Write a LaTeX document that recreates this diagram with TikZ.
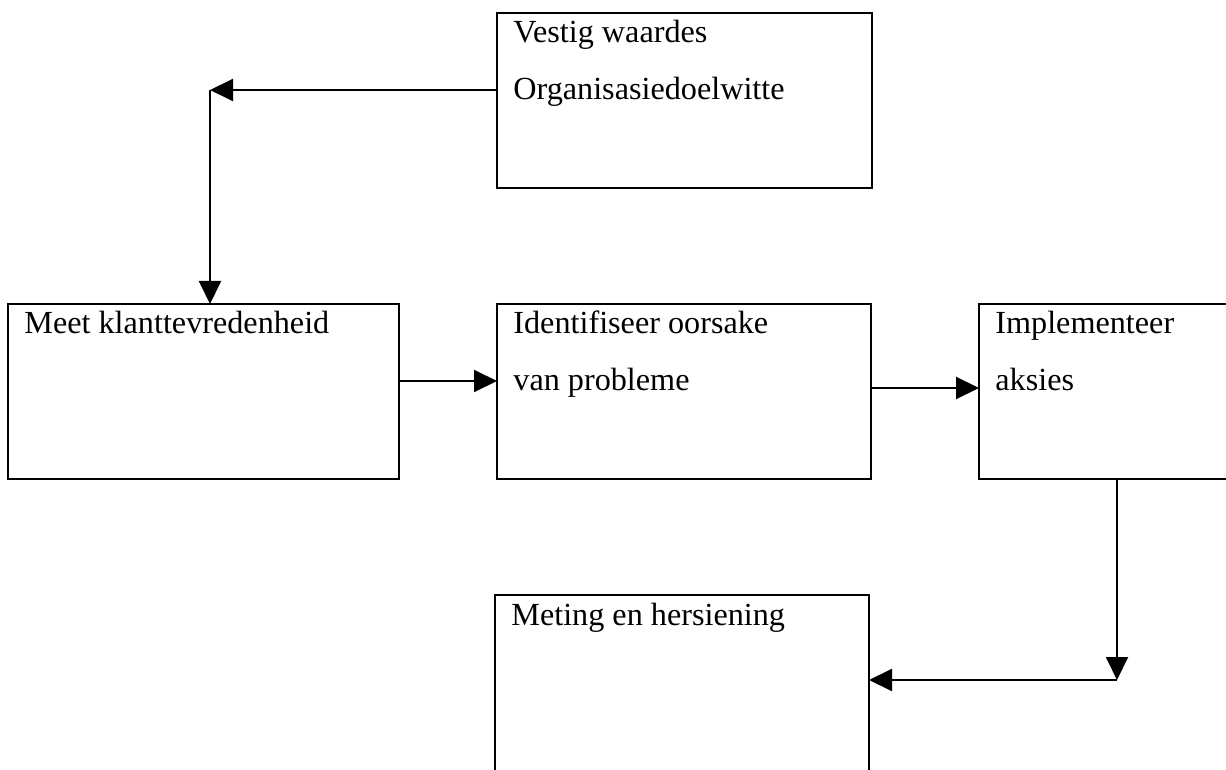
\documentclass[tikz,border=0pt]{standalone}
\usepackage{fontspec}
\setmainfont{Liberation Serif}
\usetikzlibrary{arrows.meta,calc}
% two caption lines whose baseline is that of the first line
\newcommand\capttwo[2]{\vtop{\hbox{#1}\hbox{#2}}}
\begin{document}
\begin{tikzpicture}[x=0.5pt,y=-0.5pt,
  stepbox/.style={draw,line width=1pt,rectangle,anchor=north west,inner sep=0pt,outer sep=0pt},
  boxtext/.style={anchor=base west,inner sep=0pt,
    font=\fontsize{16.1pt}{28.5pt}\selectfont},
  arr/.style={line width=1pt,-{Triangle[length=11.5pt,width=11pt]}}]
\useasboundingbox (0,0) rectangle (1226,770);
\clip (0,0) rectangle (1226,770);

% process boxes
\node[stepbox,minimum width=187.5pt,minimum height=87.5pt] (doel)   at (497,13)  {};
\node[stepbox,minimum width=195.5pt,minimum height=87.5pt] (meet)   at (8,304)   {};
\node[stepbox,minimum width=187pt,minimum height=87.5pt]   (ident)  at (497,304) {};
\node[stepbox,minimum width=190pt,minimum height=87.5pt]   (impl)   at (979,304) {};
\node[stepbox,minimum width=187pt,minimum height=100pt]    (meting) at (495,595) {};

% box captions
\node[boxtext] (tdoel)   at ($(doel.north west)+(16,30)$)    {\capttwo{Vestig waardes}{Organisasiedoelwitte}};
\node[boxtext] (tmeet)   at ($(meet.north west)+(16,29.5)$)  {Meet klanttevredenheid};
\node[boxtext] (tident)  at ($(ident.north west)+(16,29.5)$) {\capttwo{Identifiseer oorsake}{van probleme}};
\node[boxtext] (timpl)   at ($(impl.north west)+(16,29.5)$)  {\capttwo{Implementeer}{aksies}};
\node[boxtext] (tmeting) at ($(meting.north west)+(16,30)$)  {Meting en hersiening};

% connectors
\coordinate (c1) at (210,90);
\coordinate (y1) at (0,381);
\coordinate (y2) at (0,388);
\coordinate (c2) at (1117,680);
\draw[arr] (doel.west |- c1) -- (c1);
\draw[arr] (c1) -- (c1 |- meet.north);
\draw[arr] (meet.east |- y1) -- (ident.west |- y1);
\draw[arr] (ident.east |- y2) -- (impl.west |- y2);
\draw[arr] (c2 |- impl.south) -- (c2);
\draw[arr] (c2) -- (meting.east |- c2);
\end{tikzpicture}
\end{document}
